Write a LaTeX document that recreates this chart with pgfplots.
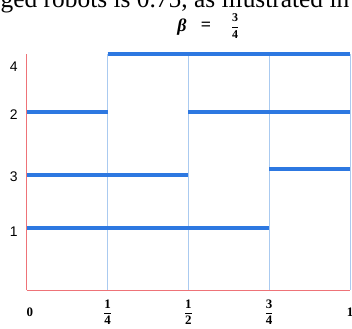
\documentclass[border=0pt]{standalone}
\usepackage{fontspec}
\setmainfont{Liberation Serif}
\newfontfamily\labelsans{Liberation Sans}
\usepackage{pgfplots}
\pgfplotsset{compat=1.18}

\definecolor{segblue}{RGB}{45,120,225}
\definecolor{gridblue}{RGB}{170,202,240}
\definecolor{axisred}{RGB}{238,115,120}

\begin{document}
\begin{tikzpicture}[x=1bp,y=1bp]
\useasboundingbox (0,0) rectangle (352,329);
% running text of the page above the figure
\node[anchor=base, inner sep=0, font=\fontsize{25.5}{25.5}\selectfont] at (175,322)
  {ged robots is 0.75, as illustrated in};
% figure title: beta = 3/4
\node[inner sep=0, font=\fontsize{18}{18}\selectfont\bfseries] at (182,302) {\textit{β}};
\node[inner sep=0, font=\fontsize{18}{18}\selectfont\bfseries] at (206,303) {=};
\node[inner sep=0, font=\fontsize{12}{12}\selectfont] at (235,303)
  {$\displaystyle\frac{\textbf{3}}{\textbf{4}}$};

\begin{axis}[
  at={(26.7bp,39bp)}, anchor=origin,
  scale only axis, width=323.3bp, height=236bp,
  xmin=0, xmax=1, ymin=0, ymax=4,
  axis x line=bottom, axis y line=left,
  axis line style={draw=axisred, line width=0.9bp, -},
  clip=false,
  tick style={draw=none},
  major tick length=0pt,
  xtick={0,0.25,0.5,0.75,1},
  xticklabels={\makebox[0pt][l]{\textbf{0}},
    $\displaystyle\frac{\textbf{1}}{\textbf{4}}$,
    $\displaystyle\frac{\textbf{1}}{\textbf{2}}$,
    $\displaystyle\frac{\textbf{3}}{\textbf{4}}$,
    \textbf{1}},
  xticklabel style={anchor=center, yshift=-22bp, font=\fontsize{13}{13}\selectfont},
  ytick={0.98,1.92,2.97,3.78},
  yticklabels={1,3,2,4},
  yticklabel style={anchor=center, xshift=-13bp, text=black, font=\labelsans\fontsize{14}{14}\selectfont},
]
% slot boundaries
\addplot[gridblue, line width=0.8bp] coordinates {(0.25,0) (0.25,4)};
\addplot[gridblue, line width=0.8bp] coordinates {(0.5,0) (0.5,4)};
\addplot[gridblue, line width=0.8bp] coordinates {(0.75,0) (0.75,4)};
\addplot[gridblue, line width=0.8bp] coordinates {(1,0) (1,4)};
% robot 4
\addplot[segblue, line width=3.2bp] coordinates {(0.25,4) (1,4)};
% robot 2
\addplot[segblue, line width=3.2bp] coordinates {(0,3.017) (0.25,3.017)};
\addplot[segblue, line width=3.2bp] coordinates {(0.5,3.017) (1,3.017)};
% robot 3
\addplot[segblue, line width=3.2bp] coordinates {(0,1.95) (0.5,1.95)};
\addplot[segblue, line width=3.2bp] coordinates {(0.75,2.05) (1,2.05)};
% robot 1
\addplot[segblue, line width=3.2bp] coordinates {(0,1.05) (0.75,1.05)};
\end{axis}
\end{tikzpicture}
\end{document}
